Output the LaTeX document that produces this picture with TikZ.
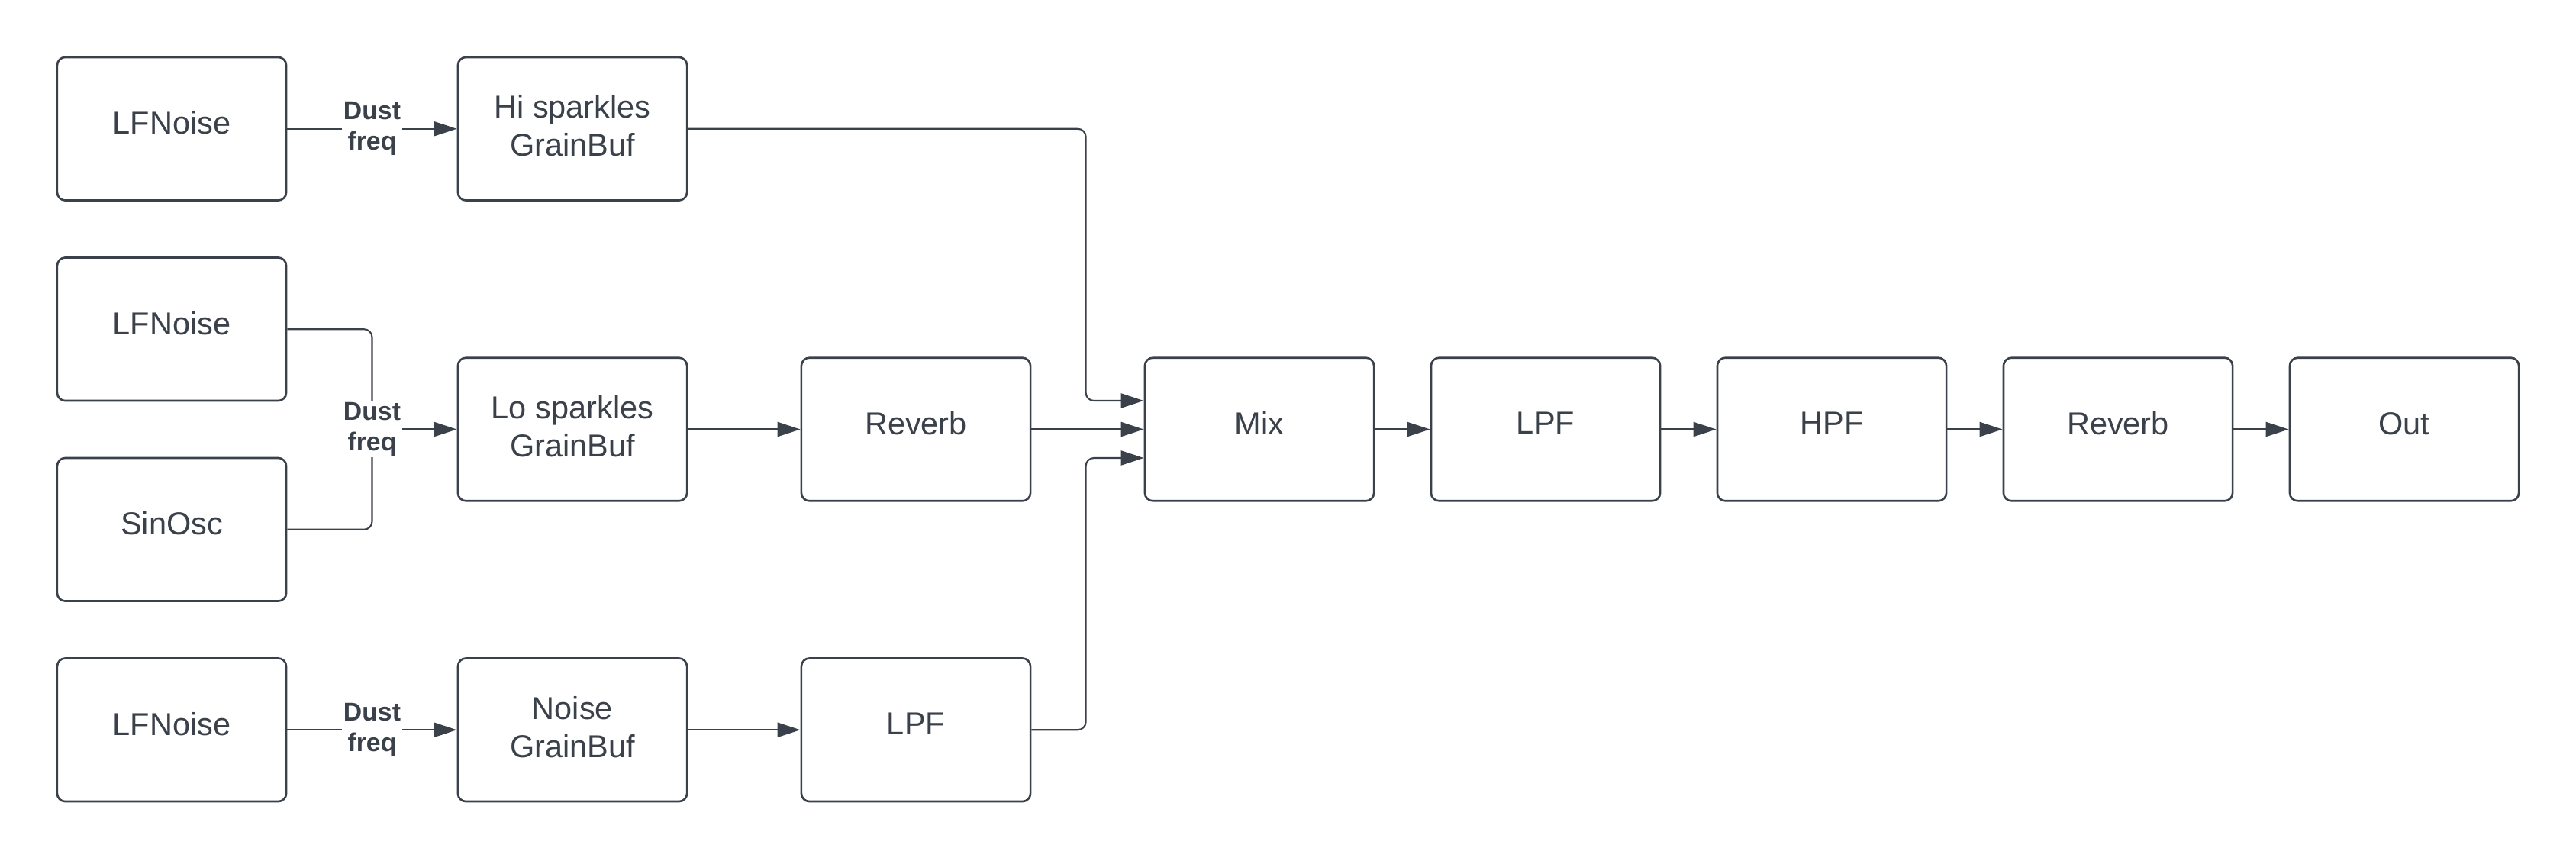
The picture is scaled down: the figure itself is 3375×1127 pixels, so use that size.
\documentclass[tikz,border=0pt]{standalone}
\usepackage{fontspec}
\setmainfont{Liberation Sans}
\usetikzlibrary{arrows.meta,calc}
\definecolor{ink}{RGB}{58,65,74}
\begin{document}
\begin{tikzpicture}[x=0.01cm,y=-0.01cm,
  box/.style={draw=ink, line width=0.75pt, rounded corners=3pt, minimum width=3cm, minimum height=1.875cm, inner sep=0pt, align=center, text=ink, font=\fontsize{11.8}{14.2}\selectfont},
  onebox/.style={box, execute at end node={\vrule width 0pt height 0pt depth 4.5pt}},
  twobox/.style={box, execute at end node={\vrule width 0pt height 0pt depth 2.4pt}},
  conn/.style={draw=ink, line width=0.6pt, rounded corners=3pt},
  arr/.style={-{Triangle[length=8.5pt,width=5.4pt]}},
  lab/.style={fill=white, text=ink, inner sep=0.5pt, align=center, font=\fontsize{9.6}{11.4}\selectfont\bfseries}]
\useasboundingbox (0,0) rectangle (3375,1127);
\node[onebox] (lf1) at (225,168.75) {LFNoise};
\node[twobox] (hi) at (750,168.75) {Hi sparkles\\GrainBuf};
\node[onebox] (lf2) at (225,431.25) {LFNoise};
\node[twobox] (lo) at (750,562.5) {Lo sparkles\\GrainBuf};
\node[onebox] (sin) at (225,693.75) {SinOsc};
\node[onebox] (lf3) at (225,956.25) {LFNoise};
\node[twobox] (ng) at (750,956.25) {Noise\\GrainBuf};
\node[onebox] (rv1) at (1200,562.5) {Reverb};
\node[onebox] (lpf1) at (1200,956.25) {LPF};
\node[onebox] (mix) at (1650,562.5) {Mix};
\node[onebox] (lpf2) at (2025,562.5) {LPF};
\node[onebox] (hpf) at (2400,562.5) {HPF};
\node[onebox] (rv2) at (2775,562.5) {Reverb};
\node[onebox] (out) at (3150,562.5) {Out};
\draw[conn,arr] (lf1) -- node[lab]{Dust\\freq} (hi);
\draw[conn,arr] (lf3) -- node[lab]{Dust\\freq} (ng);
\coordinate (j) at (487.5,562.5);
\draw[conn] (lf2.east) -| (j);
\draw[conn] (sin.east) -| (j);
\draw[conn,arr] (j) -- (lo.west);
\node[lab] at (j) {Dust\\freq};
\draw[conn,arr] (lo) -- (rv1);
\draw[conn,arr] (ng) -- (lpf1);
\draw[conn,arr] (hi.east) -| ($(mix.west)+(-76,-37.5)$) -- ($(mix.west)+(0,-37.5)$);
\draw[conn,arr] (rv1) -- (mix);
\draw[conn,arr] (lpf1.east) -| ($(mix.west)+(-76,37.5)$) -- ($(mix.west)+(0,37.5)$);
\draw[conn,arr] (mix) -- (lpf2);
\draw[conn,arr] (lpf2) -- (hpf);
\draw[conn,arr] (hpf) -- (rv2);
\draw[conn,arr] (rv2) -- (out);
\end{tikzpicture}
\end{document}
